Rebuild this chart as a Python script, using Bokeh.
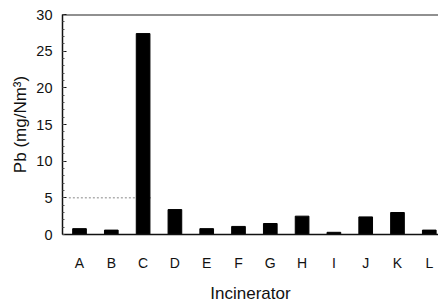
from bokeh.plotting import figure
from bokeh.models import Range1d, Span, FixedTicker
from bokeh.embed import file_html
from bokeh.resources import INLINE

incinerators = ["A", "B", "C", "D", "E", "F", "G", "H", "I", "J", "K", "L"]
pb_values = [0.8, 0.6, 27.4, 3.4, 0.8, 1.1, 1.5, 2.5, 0.3, 2.4, 3.0, 0.6]
y_ticks = [0, 5, 10, 15, 20, 25, 30]
ref_level = 5
ref_until = "C"

xs = list(range(len(incinerators)))
x_start, x_end = -0.535, 11.29

p = figure(width=438, height=307, output_backend="svg", toolbar_location=None,
           x_range=Range1d(x_start, x_end), y_range=Range1d(0, 30),
           min_border_left=62, min_border_top=14, min_border_right=0,
           min_border_bottom=73)
p.background_fill_color = "white"
p.border_fill_color = "white"
p.outline_line_color = None
p.grid.visible = False

# reference dotted line at 5
ci = incinerators.index(ref_until)
p.segment(x0=[x_start + 0.2], y0=[ref_level], x1=[ci + 0.3], y1=[ref_level],
          line_color="#888888", line_dash="2 2", line_width=1)

p.vbar(x=xs, top=pb_values, width=0.43, bottom=0,
       fill_color="black", line_color="black")

p.add_layout(Span(location=30, dimension="width", line_color="#222222", line_width=2))

font = "Liberation Sans"
# x axis
p.xaxis.ticker = FixedTicker(ticks=xs)
p.xaxis.major_label_overrides = {i: c for i, c in enumerate(incinerators)}
p.xaxis.major_tick_line_color = None
p.xaxis.major_tick_in = 0
p.xaxis.major_tick_out = 0
p.xaxis.minor_tick_line_color = None
p.xaxis.minor_tick_in = 0
p.xaxis.minor_tick_out = 0
p.xaxis.axis_line_color = "#111111"
p.xaxis.axis_line_width = 1.5
p.xaxis.major_label_standoff = 20
p.xaxis.major_label_text_font = font
p.xaxis.major_label_text_font_size = "14px"
p.xaxis.major_label_text_color = "#111111"
p.xaxis.axis_label = "Incinerator"
p.xaxis.axis_label_text_font = font
p.xaxis.axis_label_text_font_size = "17px"
p.xaxis.axis_label_text_font_style = "normal"
p.xaxis.axis_label_text_color = "#111111"
p.xaxis.axis_label_standoff = 10

# y axis
p.yaxis.ticker = FixedTicker(ticks=y_ticks, minor_ticks=list(range(0, 31)))
p.yaxis.major_tick_in = 4
p.yaxis.major_tick_out = 0
p.yaxis.minor_tick_in = 2
p.yaxis.minor_tick_out = 0
p.yaxis.major_tick_line_color = "#111111"
p.yaxis.minor_tick_line_color = "#555555"
p.yaxis.axis_line_color = "#111111"
p.yaxis.axis_line_width = 1.5
p.yaxis.major_label_standoff = 10
p.yaxis.major_label_text_font = font
p.yaxis.major_label_text_font_size = "14.5px"
p.yaxis.major_label_text_color = "#111111"
p.yaxis.axis_label = "Pb (mg/Nm³)"
p.yaxis.axis_label_text_font = font
p.yaxis.axis_label_text_font_size = "17px"
p.yaxis.axis_label_text_font_style = "normal"
p.yaxis.axis_label_text_color = "#111111"
p.yaxis.axis_label_standoff = 3

open("out.html", "w").write(file_html(p, INLINE))
